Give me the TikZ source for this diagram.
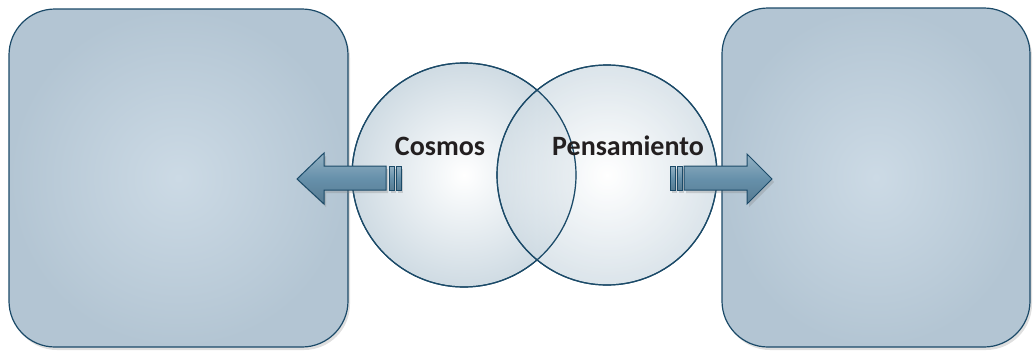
\documentclass[tikz,border=0pt]{standalone}
\usepackage{fontspec}
\setmainfont{Carlito}
\usetikzlibrary{shadows}
\definecolor{edge}{HTML}{1B4A68}
\definecolor{boxin}{HTML}{CCDAE5}
\definecolor{boxout}{HTML}{B3C5D3}
\definecolor{circin}{HTML}{FFFFFF}
\definecolor{circout}{HTML}{CFDBE3}
\definecolor{arrfill}{HTML}{6690AA}
\definecolor{txt}{HTML}{231F20}
\tikzset{
  panel/.style={draw=edge, line width=1.2pt, rounded corners=46pt, inner color=boxin, outer color=boxout,
    drop shadow={shadow xshift=2pt, shadow yshift=-3pt, opacity=0.25}},
  disc/.style={draw=edge, line width=1.2pt, inner color=circin, outer color=circout},
  ring/.style={draw=edge, line width=1.2pt},
  blockarrow/.style={draw=edge, line width=1pt, top color=arrfill!70!white, bottom color=arrfill!85!black, middle color=arrfill,
    drop shadow={shadow xshift=2pt, shadow yshift=-3pt, opacity=0.3}},
  lbl/.style={font=\bfseries\fontsize{28}{30}\selectfont, text=txt, inner sep=0pt}
}
\begin{document}
\begin{tikzpicture}[x=1pt,y=-1pt]
\useasboundingbox (0,0) rectangle (1036,354);
% panels
\path[panel] (9,9) rectangle (348,347);
\path[panel] (722,8) rectangle (1030,347);
% circles
\path[disc] (464,175) circle (112);
\path[disc, fill opacity=0.75] (607,175) circle (110);
\draw[ring] (464,175) circle (112);
\draw[ring] (607,175) circle (110);
% left arrow
\path[blockarrow] (297,179) -- (324,153) -- (324,166) -- (386,166) -- (386,190) -- (324,190) -- (324,204) -- cycle;
\path[blockarrow] (389,166) rectangle (394,190);
\path[blockarrow] (396,166) rectangle (401,190);
% right arrow
\path[blockarrow] (772,179) -- (747,154) -- (747,166) -- (684,166) -- (684,190) -- (747,190) -- (747,204) -- cycle;
\path[blockarrow] (670,166) rectangle (675,190);
\path[blockarrow] (677,166) rectangle (682,190);
% labels
\node[lbl] (cosmos) at (440,146) {Cosmos};
\node[lbl] (pens) at (628,146) {Pensamiento};
\end{tikzpicture}
\end{document}
